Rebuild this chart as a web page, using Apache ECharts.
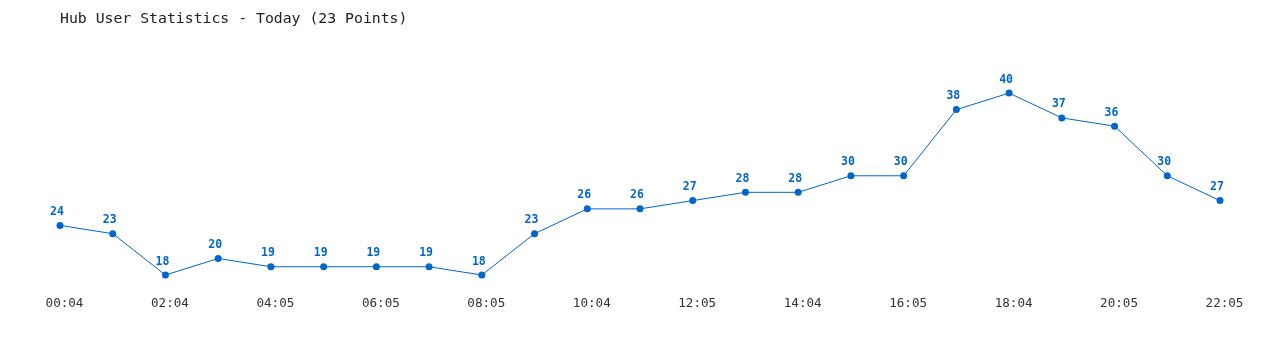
<!DOCTYPE html>
<html><head><meta charset="utf-8">
<script src="https://cdn.jsdelivr.net/npm/echarts@6/dist/echarts.min.js"></script>
<style>html,body{margin:0;padding:0;background:#fff}#c{width:1280px;height:350px}</style>
</head><body><div id="c"></div>
<script>
var categories = ['00:04','01:04','02:04','03:05','04:05','05:05','06:05','07:05','08:05','09:04','10:04','11:05','12:05','13:04','14:04','15:05','16:05','17:04','18:04','19:05','20:05','21:05','22:05'];
var users = [24,23,18,20,19,19,19,19,18,23,26,26,27,28,28,30,30,38,40,37,36,30,27];
var titleText = 'Hub User Statistics - Today (23 Points)';
var mono = '"DejaVu Sans Mono", "Liberation Mono", monospace';
var chart = echarts.init(document.getElementById('c'), null, {renderer:'canvas'});
chart.setOption({
  animation:false,
  backgroundColor:'#fff',
  title:{text:titleText,left:55,top:7,textStyle:{fontFamily:mono,fontSize:14.8,fontWeight:'normal',color:'#222'}},
  grid:{left:60,right:60,top:60,bottom:66.7},
  xAxis:{type:'category',data:categories,boundaryGap:false,
    axisLine:{show:false},axisTick:{show:false},splitLine:{show:false},
    axisLabel:{interval:1,margin:14,color:'#333',fontFamily:mono,fontSize:12.6,padding:[0,0,0,9]}},
  yAxis:{type:'value',min:17,max:44,show:false,splitLine:{show:false}},
  series:[{type:'line',data:users,symbol:'circle',symbolSize:7,
    lineStyle:{color:'#0066cc',width:1},itemStyle:{color:'#0066cc'},
    label:{show:true,position:'top',distance:4,offset:[-3,0],color:'#0066cc',fontFamily:mono,fontWeight:'bold',fontSize:11.5}}]
});
</script></body></html>
